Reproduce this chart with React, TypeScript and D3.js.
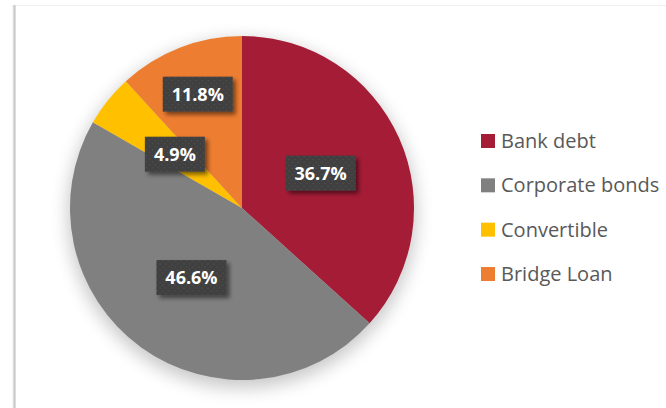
import React from 'react';
import * as d3 from 'd3';

const categories = ['Bank debt', 'Corporate bonds', 'Convertible', 'Bridge Loan'];
const shares = [36.7, 46.6, 4.9, 11.8];
const colors = ['#A51C36', '#808080', '#FFC000', '#ED7D31'];

const W = 666;
const H = 408;

export default function App() {
    const cx = 242, cy = 208, R = 172;

    const pie = d3.pie<number>().value(d => d).sort(null);
    const arcs = pie(shares);
    const arc = d3.arc<d3.PieArcDatum<number>>().innerRadius(0).outerRadius(R);

    // Excel pushes the small top slice label outward to keep it clear of its neighbour
    const labelRadius = (i: number) => (i === 3 ? R * 0.71 : R * 0.5);

    const legendY = d3.scalePoint<string>().domain(categories).range([141, 274]);

    return (
        <div style={{ position: 'absolute', left: 0, top: 0 }}>
            <svg width={W} height={H} style={{ display: 'block' }}>
                <defs>
                    <filter id="pieShadow" x="-30%" y="-30%" width="160%" height="160%">
                        <feGaussianBlur stdDeviation="9" />
                    </filter>
                    <filter id="boxShadow" x="-30%" y="-30%" width="160%" height="160%">
                        <feGaussianBlur in="SourceAlpha" stdDeviation="2" />
                        <feOffset dx="3" dy="3" result="b" />
                        <feComponentTransfer>
                            <feFuncA type="linear" slope="0.5" />
                        </feComponentTransfer>
                        <feMerge>
                            <feMergeNode />
                            <feMergeNode in="SourceGraphic" />
                        </feMerge>
                    </filter>
                    <pattern id="dots" width="6" height="6" patternUnits="userSpaceOnUse">
                        <rect width="6" height="6" fill="#404040" />
                        <rect x="1" y="1" width="1" height="1" fill="#555" />
                        <rect x="4" y="4" width="1" height="1" fill="#555" />
                    </pattern>
                    <linearGradient id="edge" x1="0" x2="1">
                        <stop offset="0" stopColor="#fff" />
                        <stop offset="0.6" stopColor="#c8c8c8" />
                        <stop offset="1" stopColor="#e6e6e6" />
                    </linearGradient>
                </defs>

                <rect width={W} height={H} fill="#fff" />
                {/* chart frame edge with shadow */}
                <rect x={12} y={5} width={4} height={H} fill="url(#edge)" />
                <line x1={16} x2={W} y1={5.5} y2={5.5} stroke="#f0f0f0" />

                <circle cx={cx} cy={cy + 6} r={R + 2} fill="#000" opacity={0.22} filter="url(#pieShadow)" />

                <g transform={`translate(${cx},${cy})`}>
                    {arcs.map((a, i) => (
                        <path key={categories[i]} d={arc(a) || ''} fill={colors[i]} />
                    ))}
                    {arcs.map((a, i) => {
                        const lr = labelRadius(i);
                        const c = d3.arc<d3.PieArcDatum<number>>().innerRadius(lr).outerRadius(lr).centroid(a);
                        const bw = shares[i] >= 10 ? 70 : 60;
                        const bh = 35;
                        return (
                            <g key={'l' + i} transform={`translate(${c[0]},${c[1]})`}>
                                <rect x={-bw / 2} y={-bh / 2} width={bw} height={bh} fill="url(#dots)" filter="url(#boxShadow)" />
                                <text
                                    textAnchor="middle"
                                    dy="0.36em"
                                    fill="#fff"
                                    fontFamily="'Open Sans', sans-serif"
                                    fontWeight={700}
                                    fontSize={18}
                                >
                                    {shares[i].toFixed(1)}%
                                </text>
                            </g>
                        );
                    })}
                </g>

                <g>
                    {categories.map((c, i) => (
                        <g key={c} transform={`translate(481,${legendY(c)})`}>
                            <rect x={0} y={-7} width={14} height={14} fill={colors[i]} />
                            <text
                                x={20}
                                dy="0.35em"
                                fill="#595959"
                                fontFamily="'Open Sans', sans-serif"
                                fontSize={20}
                            >
                                {c}
                            </text>
                        </g>
                    ))}
                </g>
            </svg>
        </div>
    );
}
